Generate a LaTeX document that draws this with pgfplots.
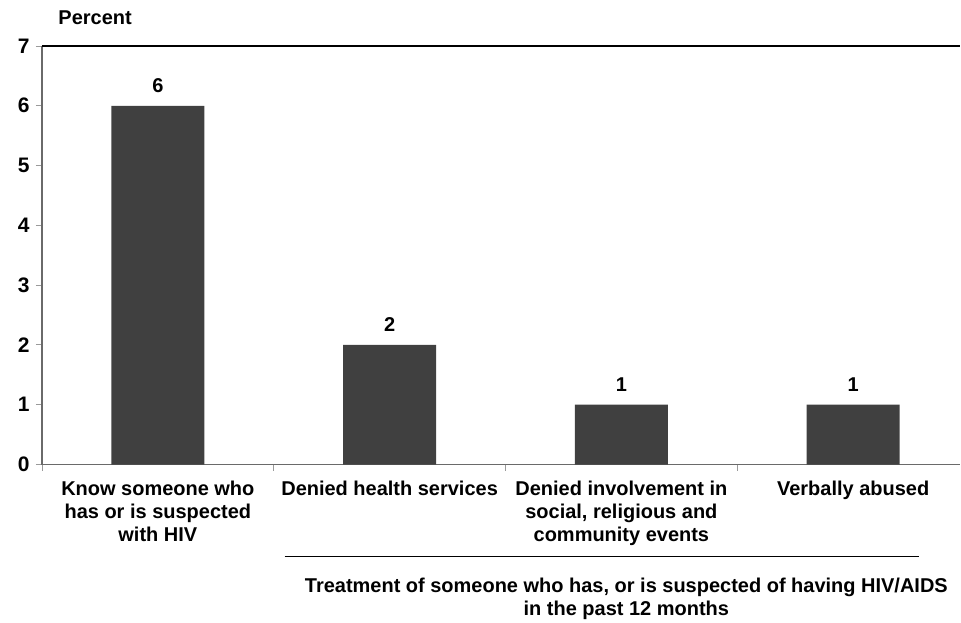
\documentclass[border=0pt]{standalone}
\usepackage{pgfplots}
\pgfplotsset{compat=1.18}
\usepackage{fontspec}
\setmainfont{Liberation Sans}
\definecolor{barc}{HTML}{404040}
\definecolor{axc}{HTML}{6A6A6A}
\definecolor{tkc}{HTML}{9A9A9A}
\begin{document}
\begin{tikzpicture}[font=\bfseries\fontsize{20}{23}\selectfont]
\begin{axis}[
  at={(0,0)}, anchor=south west,
  scale only axis, width=919pt, height=419pt,
  xmin=-0.5, xmax=3.461, ymin=0, ymax=7,
  axis x line=bottom, axis y line=left,
  axis line style={draw=axc, line width=1.4pt, -},
  tick align=outside, major tick length=6pt,
  tick style={draw=tkc, line width=0.9pt},
  xtick={-0.5,0.5,1.5,2.5}, xticklabels={},
  extra x ticks={0,1,2,3},
  extra x tick labels={{Know someone who\\has or is suspected\\with HIV},{Denied health services},{Denied involvement in\\social, religious and\\community events},{Verbally abused}},
  extra x tick style={major tick length=0pt, tick style={draw=none},
    xticklabel style={align=center, yshift=-13pt, font=\bfseries\fontsize{20}{23}\selectfont}},
  ytick={0,1,...,7},
  yticklabels={\fontsize{21}{24}\selectfont 0,\fontsize{21}{24}\selectfont 1,\fontsize{21}{24}\selectfont 2,\fontsize{21}{24}\selectfont 3,\fontsize{21}{24}\selectfont 4,\fontsize{21}{24}\selectfont 5,\fontsize{21}{24}\selectfont 6,\fontsize{21}{24}\selectfont 7},
  yticklabel style={xshift=-3pt},
  ybar, bar width=93pt,
  nodes near coords={\fontsize{20}{22}\selectfont\pgfmathprintnumber[assume math mode=true]{\pgfplotspointmeta}},
  every node near coord/.append style={yshift=9.5pt},
  clip=false,
]
\addplot[fill=barc, draw=none] coordinates {(0,6) (1,2) (2,1) (3,1)};
\draw[black, line width=2pt] (rel axis cs:0,1) -- (rel axis cs:1,1);
\end{axis}
\draw[black, line width=1.6pt] (243pt,-92pt) -- (878pt,-92pt);
\node[align=center] at (585pt,-134pt) {Treatment of someone who has, or is suspected of having HIV/AIDS\\in the past 12 months};
\node[anchor=west] at (13pt,447pt) {Percent};
\path[use as bounding box] (-42pt,-155pt) rectangle (919pt,465pt);
\end{tikzpicture}
\end{document}
